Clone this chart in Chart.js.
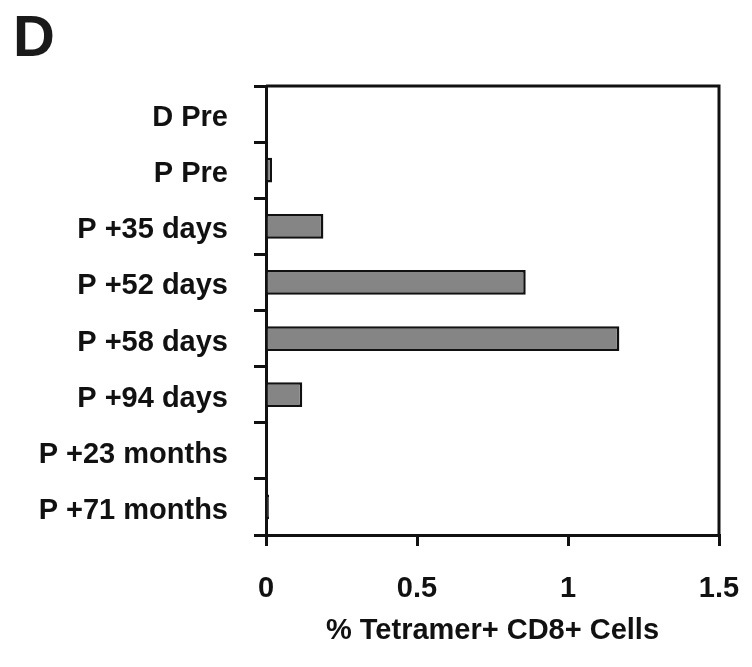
<!DOCTYPE html>
<html>
<head>
<meta charset="utf-8">
<script src="https://cdn.jsdelivr.net/npm/chart.js@4.4.1/dist/chart.umd.min.js"></script>
<style>
  body { margin: 0; background: #fff; }
  #wrap { position: relative; width: 752px; height: 667px; }
  #panel { position: absolute; left: 13px; top: 2px; font: bold 58px "Liberation Sans", Arial, sans-serif; color: #1a1a1a; }
</style>
</head>
<body>
<div id="wrap">
  <div id="panel">D</div>
  <canvas id="chart-bar"></canvas>
</div>
<script>
// samples, top to bottom
var labels = ['D Pre', 'P Pre', 'P +35 days', 'P +52 days', 'P +58 days', 'P +94 days', 'P +23 months', 'P +71 months'];
var tetramer = [0, 0.02, 0.19, 0.86, 1.17, 0.12, 0, 0.01];
var xTicks = [0, 0.5, 1, 1.5];
var xTitle = '% Tetramer+ CD8+ Cells';

var font = { family: '"Liberation Sans", Arial, sans-serif', weight: 'bold', size: 29 };

// top and right sides of the frame
var frame = {
    id: 'frame',
    afterDraw: function(chart) {
        var a = chart.chartArea, c = chart.ctx;
        c.save();
        c.strokeStyle = '#111';
        c.lineWidth = 3;
        c.beginPath();
        c.moveTo(a.left, a.top);
        c.lineTo(a.right, a.top);
        c.lineTo(a.right, a.bottom);
        c.stroke();
        c.restore();
    }
};

const ctx = document.getElementById('chart-bar').getContext('2d');
const myChart = new Chart(ctx, {
    type: 'bar',
    data: {
        labels: labels,
        datasets: [{
            data: tetramer,
            backgroundColor: '#858585',
            borderColor: '#111',
            borderWidth: 2.5,
            barPercentage: 0.44,
            categoryPercentage: 1
        }]
    },
    options: {
        indexAxis: 'y',
        responsive: true,
        maintainAspectRatio: false,
        animation: false,
        layout: { padding: { top: 86, right: 33, left: 0, bottom: 0 } },
        plugins: {
            legend: { display: false },
            tooltip: { enabled: false }
        },
        scales: {
            x: {
                min: 0,
                max: 1.5,
                afterBuildTicks: function(scale) {
                    scale.ticks = xTicks.map(function(v) { return { value: v }; });
                },
                afterFit: function(scale) {
                    scale.height = 132;
                    scale.paddingLeft = 0;
                    scale.paddingRight = 0;
                },
                grid: { drawOnChartArea: false, drawTicks: true, tickLength: 11, color: '#111', lineWidth: 3 },
                border: { color: '#111', width: 3 },
                ticks: {
                    color: '#111', font: font, padding: 26, maxRotation: 0,
                    callback: function(v) { return String(v); }
                },
                title: { display: true, text: xTitle, color: '#111', font: font, padding: { top: 0, bottom: 19 } }
            },
            y: {
                afterFit: function(scale) {
                    scale.width = 266;
                    scale.paddingTop = 0;
                    scale.paddingBottom = 0;
                },
                grid: { drawOnChartArea: false, drawTicks: true, tickLength: 12, color: '#111', lineWidth: 3, offset: true },
                border: { color: '#111', width: 3 },
                ticks: { color: '#111', font: font, padding: 26, labelOffset: 4 }
            }
        }
    },
    plugins: [frame]
});
</script>
</body>
</html>
